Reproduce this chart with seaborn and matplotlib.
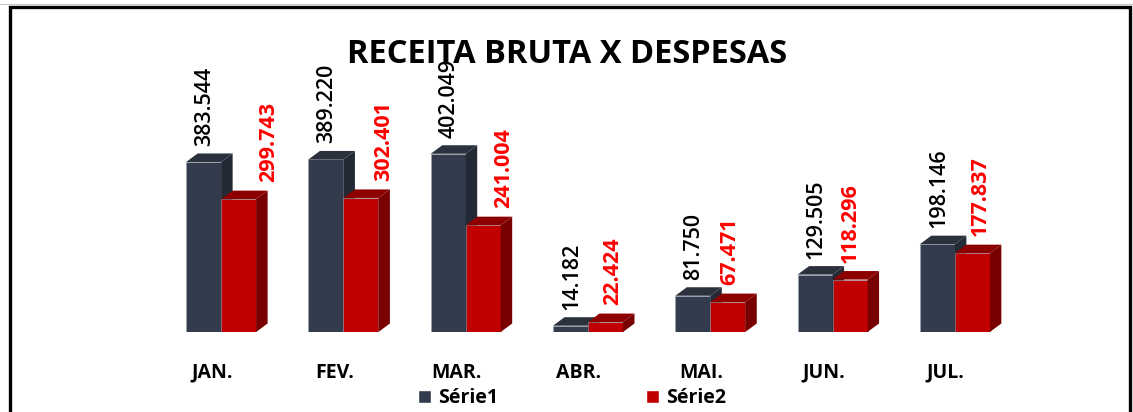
import numpy as np
import pandas as pd
import matplotlib
matplotlib.use("Agg")
from matplotlib import pyplot as plt
from matplotlib.patches import Polygon, Patch, Rectangle
from matplotlib.transforms import ScaledTranslation
import seaborn as sns

# dados (valores em R$)
meses = ["JAN.", "FEV.", "MAR.", "ABR.", "MAI.", "JUN.", "JUL."]
serie1 = [383544, 389220, 402049, 14182, 81750, 129505, 198146]
serie2 = [299743, 302401, 241004, 22424, 67471, 118296, 177837]
series = ["Série1", "Série2"]

# ajuste manual dos rotulos vermelhos (px), como no original
rotulo2_dx = [30, 23, 20, 7, 2, 0, 8]

sns.set_style("white")
plt.rcParams["font.family"] = ["Open Sans", "DejaVu Sans"]
plt.rcParams["text.color"] = "black"
plt.rcParams["xtick.color"] = "black"
plt.rcParams["xtick.labelcolor"] = "black"

azul = ["#323c4d", "#232a35", "#2b323e"]   # frente, lado, topo
vermelho = ["#c00000", "#780000", "#8c0000"]

df = pd.DataFrame({
    "mes": meses * 2,
    "valor": serie1 + serie2,
    "serie": [series[0]] * len(meses) + [series[1]] * len(meses),
})

W, H = 1133, 412
fig = plt.figure(figsize=(W / 100, H / 100), dpi=100)
ax = fig.add_axes([160 / W, 80 / H, 856 / W, 266 / H])

sns.barplot(data=df, x="mes", y="valor", hue="serie", order=meses,
            palette=[azul[0], vermelho[0]], saturation=1, width=0.572,
            legend=False, ax=ax)
ax.set_ylim(0, 600000)
ax.set_xlim(-0.5, len(meses) - 0.5)
ax.set_xlabel("")
ax.set_ylabel("")
ax.set_yticks([])
sns.despine(ax=ax, left=True, bottom=True)

# profundidade "3D" em pixels
DX, DY = 11.5, 8.5
to_data = ax.transData.inverted()


def faces3d(bar, cores, z):
    x0, y0 = bar.get_x(), bar.get_y()
    x1, y1 = x0 + bar.get_width(), y0 + bar.get_height()
    p = ax.transData.transform([[x0, y0], [x1, y0], [x1, y1], [x0, y1]])
    d = np.array([DX, DY])
    lado = to_data.transform([p[1], p[1] + d, p[2] + d, p[2]])
    topo = to_data.transform([p[3], p[3] + d, p[2] + d, p[2]])
    ax.add_patch(Polygon(lado, closed=True, facecolor=cores[1], edgecolor="none", zorder=z + 0.1))
    ax.add_patch(Polygon(topo, closed=True, facecolor=cores[2], edgecolor="none", zorder=z + 0.2))
    bar.set_zorder(z)
    bar.set_edgecolor("#9aa3b3")
    bar.set_linewidth(0.4)


px = 0.72  # pontos por pixel
for i, bar in enumerate(ax.containers[0]):
    faces3d(bar, azul, 2)
    ax.annotate(f"{serie1[i]:,}".replace(",", "."),
                (bar.get_x() + bar.get_width() / 2, bar.get_height()),
                xytext=(1 * px, 16 * px), textcoords="offset points",
                rotation=90, ha="center", va="bottom", fontsize=15.5,
                fontweight=600, color="black", zorder=5)
for i, bar in enumerate(ax.containers[1]):
    faces3d(bar, vermelho, 3)
    ax.annotate(f"{serie2[i]:,}".replace(",", "."),
                (bar.get_x() + bar.get_width() / 2, bar.get_height()),
                xytext=(rotulo2_dx[i] * px, 17 * px), textcoords="offset points",
                rotation=90, ha="center", va="bottom", fontsize=15.5,
                fontweight="bold", color="#ff0000", zorder=5)

ax.tick_params(axis="x", length=0, pad=22, labelsize=14)
for lbl in ax.get_xticklabels():
    lbl.set_fontweight("bold")
    lbl.set_transform(lbl.get_transform() + ScaledTranslation(-9 / 100, 0, fig.dpi_scale_trans))

fig.text(567 / W, 1 - 63 / H, "RECEITA BRUTA X DESPESAS", ha="center", va="baseline",
         fontsize=23.5, fontweight="bold", color="black")

handles = [Patch(facecolor=azul[0]), Patch(facecolor=vermelho[0])]
fig.legend(handles, series, loc="center", bbox_to_anchor=(572 / W, 1 - 398 / H),
           ncol=2, frameon=False, prop={"weight": "bold", "size": 14},
           handlelength=0.68, handleheight=0.68, handletextpad=0.35,
           columnspacing=7.6, borderpad=0)

# moldura
fig.add_artist(Rectangle((9.5 / W, -0.2), (1130 - 9.5) / W, 1.2 - 7 / H,
                         transform=fig.transFigure, fill=False,
                         edgecolor="black", linewidth=2.4, zorder=10))
fig.add_artist(plt.Line2D([0, 1], [1 - 4 / H] * 2, transform=fig.transFigure,
                          color="#c8c8c8", linewidth=0.8))

fig.savefig("out.png", dpi=100)
